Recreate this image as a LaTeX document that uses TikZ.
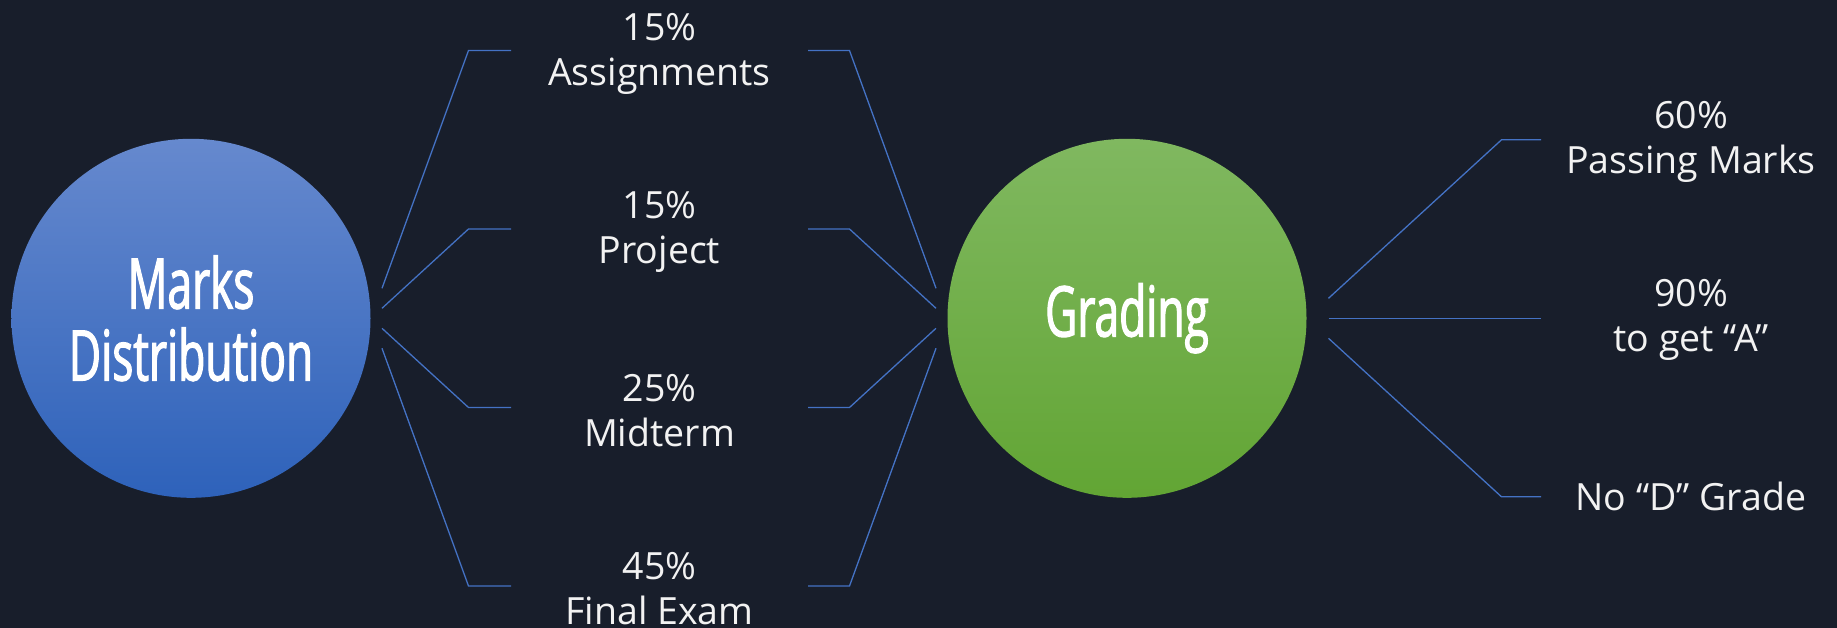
\documentclass[tikz,border=0pt]{standalone}
\usepackage{fontspec}
\setmainfont{Open Sans}
\newfontfamily\circfont[FakeStretch=0.632,FakeBold=1.6]{Open Sans}
\usetikzlibrary{calc}
\definecolor{bg}{HTML}{181E2B}
\definecolor{connc}{HTML}{4472C4}
\definecolor{txt}{HTML}{F2F2F2}
\definecolor{blueT}{HTML}{6689CE}
\definecolor{blueB}{HTML}{2E62BA}
\definecolor{greenT}{HTML}{80B860}
\definecolor{greenB}{HTML}{62A534}
\begin{document}
\begin{tikzpicture}[x=1bp,y=-1bp,
  hub/.style={circle,minimum size=359bp,inner sep=0pt,draw=none,text=white,
    font=\circfont\fontsize{70bp}{72bp}\selectfont,align=center},
  lbl/.style={text=txt,font=\fontsize{37.5bp}{45bp}\selectfont,align=center,
    inner sep=0pt,minimum width=297bp},
  rlbl/.style={lbl,minimum width=300bp},
  link/.style={draw=connc,line width=1.3bp}]
\fill[bg] (0,0) rectangle (1837,628);
\useasboundingbox (0,0) rectangle (1837,628);

% hubs
\node[hub,top color=blueT,bottom color=blueB] (md) at (191,318.3) {Marks\\Distribution};
\node[hub,top color=greenT,bottom color=greenB] (gr) at (1127,318.3) {Grading};

% left labels
\node[lbl,yshift=-3bp] (a1) at (659.5,50.5) {15\%\\Assignments};
\node[lbl,yshift=-3bp] (a2) at (659.5,229) {15\%\\Project};
\node[lbl,yshift=-3bp] (a3) at (659.5,407.5) {25\%\\Midterm};
\node[lbl,yshift=-3bp] (a4) at (659.5,586) {45\%\\Final Exam};

% right labels
\node[rlbl,yshift=-2bp] (g1) at (1691,139.8) {60\%\\Passing Marks};
\node[rlbl,yshift=-2bp] (g2) at (1691,318.3) {90\%\\to get “A”};
\node[rlbl] (g3) at (1691,496.8) {No “D” Grade};

% connector points
\coordinate (ls1) at (382,288.3);
\coordinate (ls2) at (382,308.3);
\coordinate (ls3) at (382,328.3);
\coordinate (ls4) at (382,348.3);
\coordinate (le1) at (468.5,50.5);
\coordinate (le2) at (468.5,229);
\coordinate (le3) at (468.5,407.5);
\coordinate (le4) at (468.5,586);
\coordinate (lw1) at (511,50.5);
\coordinate (lw2) at (511,229);
\coordinate (lw3) at (511,407.5);
\coordinate (lw4) at (511,586);
\coordinate (rw1) at (808,50.5);
\coordinate (rw2) at (808,229);
\coordinate (rw3) at (808,407.5);
\coordinate (rw4) at (808,586);
\coordinate (re1) at (849.5,50.5);
\coordinate (re2) at (849.5,229);
\coordinate (re3) at (849.5,407.5);
\coordinate (re4) at (849.5,586);
\coordinate (rs1) at (936,288.3);
\coordinate (rs2) at (936,308.3);
\coordinate (rs3) at (936,328.3);
\coordinate (rs4) at (936,348.3);

\coordinate (gs1) at (1328.5,298.3);
\coordinate (gs2) at (1328.5,318.3);
\coordinate (gs3) at (1328.5,338.3);
\coordinate (ge1) at (1501.5,139.8);
\coordinate (ge3) at (1501.5,496.8);
\coordinate (gw1) at (1541,139.8);
\coordinate (gw2) at (1541,318.3);
\coordinate (gw3) at (1541,496.8);

\foreach \i in {1,2,3,4}{
  \draw[link] (ls\i) -- (le\i) -- (lw\i);
  \draw[link] (rw\i) -- (re\i) -- (rs\i);
}
\draw[link] (gs1) -- (ge1) -- (gw1);
\draw[link] (gs2) -- (gw2);
\draw[link] (gs3) -- (ge3) -- (gw3);
\end{tikzpicture}
\end{document}
